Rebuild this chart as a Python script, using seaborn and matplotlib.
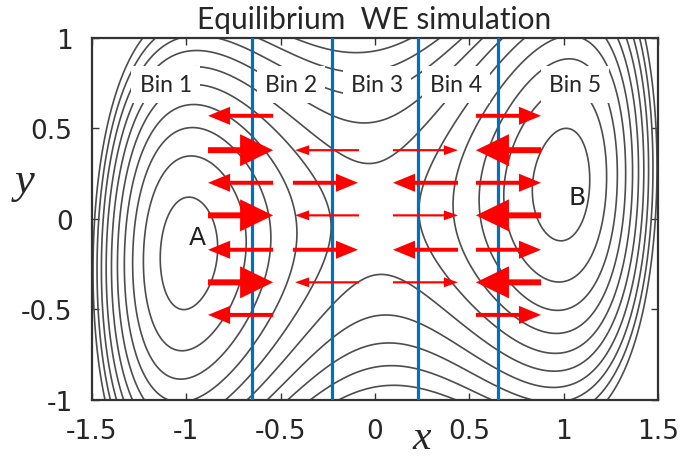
import numpy as np
import pandas as pd
import matplotlib
matplotlib.use("Agg")
import matplotlib.pyplot as plt
import seaborn as sns

# bin boundaries (x) and labels
bin_edges = [-0.65, -0.23, 0.23, 0.65]
bin_names = ["Bin 1", "Bin 2", "Bin 3", "Bin 4", "Bin 5"]
bin_label_x = [-1.11, -0.445, 0.01, 0.43, 1.06]

# double-well landscape
well_x = 1.0          # minima at x = -1 (A) and x = +1 (B)
valley_slope = 0.19   # minima sit at y = -0.19 (A) and y = +0.19 (B)
y_stiff = 0.94
outer_wall = 0.1
level_start, level_step, n_levels = 0.09, 0.18, 10

# arrows: row height, start x, end x, weight
arrow_y = [0.57, 0.38, 0.20, 0.02, -0.17, -0.35, -0.53,
           0.38, 0.20, 0.02, -0.17, -0.35,
           0.38, 0.20, 0.02, -0.17, -0.35,
           0.57, 0.38, 0.20, 0.02, -0.17, -0.35, -0.53]
arrow_x0 = [-0.54, -0.885, -0.54, -0.885, -0.54, -0.885, -0.54,
            -0.085, -0.435, -0.085, -0.435, -0.085,
            0.095, 0.44, 0.095, 0.44, 0.095,
            0.535, 0.88, 0.535, 0.88, 0.535, 0.88, 0.535]
arrow_x1 = [-0.885, -0.54, -0.885, -0.54, -0.885, -0.54, -0.885,
            -0.424, -0.09, -0.424, -0.09, -0.424,
            0.44, 0.095, 0.44, 0.095, 0.44,
            0.88, 0.535, 0.88, 0.535, 0.88, 0.535, 0.88]
arrow_w = ["mid", "thick", "mid", "thick", "mid", "thick", "mid",
           "thin", "mid", "thin", "mid", "thin",
           "thin", "mid", "thin", "mid", "thin",
           "mid", "thick", "mid", "thick", "mid", "thick", "mid"]

x_ticks = [-1.5, -1, -0.5, 0, 0.5, 1, 1.5]
x_ticklabels = ["-1.5", "-1", "-0.5", "0", "0.5", "1", "1.5"]
y_ticks = [-1, -0.5, 0, 0.5, 1]
y_ticklabels = ["-1", "-0.5", "0", "0.5", "1"]

sns.set_theme(style="ticks")
plt.rcParams["axes.unicode_minus"] = False

fig = plt.figure(figsize=(6.87, 4.60), dpi=100)
ax = fig.add_axes([0.1339, 0.1283, 0.8239, 0.787])

# potential surface
gx = np.linspace(-1.5, 1.5, 400)
gy = np.linspace(-1, 1, 300)
X, Y = np.meshgrid(gx, gy)
s = X**2 / well_x**2 - 1
V = s**2 + outer_wall * s**3 + y_stiff * (Y - valley_slope * X) ** 2
levels = level_start + level_step * np.arange(n_levels)
ax.contour(X, Y, V, levels=levels, colors="#4d4d4d", linewidths=1.2, zorder=1)

# bin boundaries
edges = pd.DataFrame({
    "x": np.repeat(bin_edges, 2),
    "y": [-1, 1] * len(bin_edges),
    "edge": np.repeat(range(len(bin_edges)), 2),
})
sns.lineplot(data=edges, x="x", y="y", units="edge", estimator=None,
             color="#0070C0", lw=2.3, ax=ax, zorder=3)

for name, bx in zip(bin_names, bin_label_x):
    ax.text(bx, 0.745, name, ha="center", va="center", fontsize=16.5,
            family="Lato", zorder=4,
            bbox=dict(boxstyle="square,pad=0.35", fc="white", ec="none"))

sizes = {"thick": (0.033, 0.177, 0.175),
         "mid": (0.022, 0.10, 0.117),
         "thin": (0.012, 0.055, 0.075)}
for yy, x0, x1, w in zip(arrow_y, arrow_x0, arrow_x1, arrow_w):
    sw, hw, hl = sizes[w]
    ax.arrow(x0, yy, x1 - x0, 0, width=sw, head_width=hw, head_length=hl,
             length_includes_head=True, color="#FF0000", lw=0, zorder=5)

ax.text(-0.943, -0.10, "A", ha="center", va="center", fontsize=18,
        family="DejaVu Sans", color="#222222", zorder=4)
ax.text(1.07, 0.12, "B", ha="center", va="center", fontsize=18,
        family="DejaVu Sans", color="#222222", zorder=4)

ax.set_xlim(-1.5, 1.5)
ax.set_ylim(-1, 1)
ax.set_xticks(x_ticks)
ax.set_xticklabels(x_ticklabels, fontsize=19, family="DejaVu Sans")
ax.set_yticks(y_ticks)
ax.set_yticklabels(y_ticklabels, fontsize=19, family="DejaVu Sans")
ax.tick_params(axis="x", pad=13)
ax.tick_params(axis="y", pad=14)
ax.tick_params(direction="in", length=5, width=1, top=True, right=True,
               color="#333333")
ax.set_xlabel("")
ax.set_ylabel("")
for sp in ax.spines.values():
    sp.set_color("#333333")
    sp.set_linewidth(1.6)

fig.text(374 / 687, 1 - 20 / 460, "Equilibrium  WE simulation", ha="center",
         va="center", fontsize=21.5, family="Lato")
fig.text(422 / 687, 1 - 449 / 460, "x", ha="center", va="baseline",
         fontsize=30, style="italic", family="Liberation Serif")
fig.text(25 / 687, 1 - 182 / 460, "y", ha="center", va="center",
         fontsize=32, style="italic", family="Liberation Serif")

fig.savefig("out.png", dpi=100)
